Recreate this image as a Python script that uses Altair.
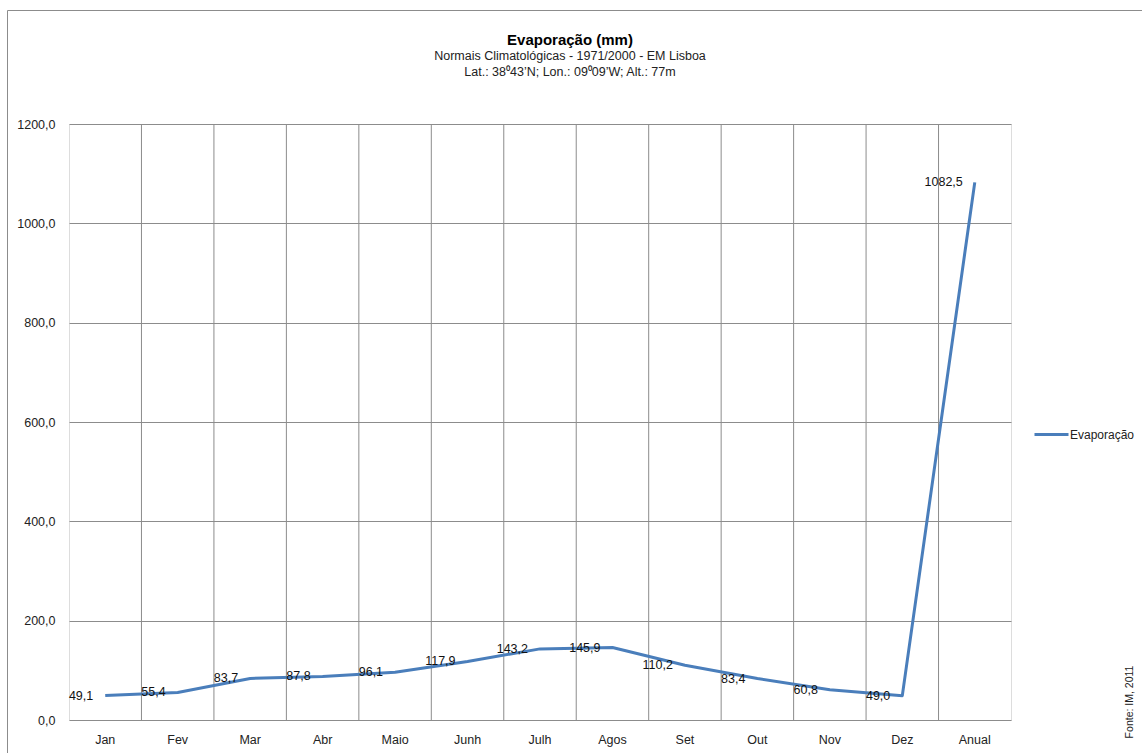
import altair as alt
import pandas as pd

# Monthly and annual mean evaporation, Lisbon, 1971-2000 normals
meses = ["Jan", "Fev", "Mar", "Abr", "Maio", "Junh", "Julh", "Agos",
         "Set", "Out", "Nov", "Dez", "Anual"]
evaporacao = [49.1, 55.4, 83.7, 87.8, 96.1, 117.9, 143.2, 145.9,
              110.2, 83.4, 60.8, 49.0, 1082.5]
serie = "Evaporação"
y_ticks = [0, 200, 400, 600, 800, 1000, 1200]

df = pd.DataFrame({
    "mes": meses,
    "valor": evaporacao,
    "rotulo": [f"{v:.1f}".replace(".", ",") for v in evaporacao],
    "serie": serie,
})

FONT = "Liberation Sans"
GRID = "#8c8c8c"
W, H = 942, 596
PAD_L, PAD_T = 69, 124

x_scale = alt.Scale(type="band", domain=meses, paddingInner=0, paddingOuter=0)
y_scale = alt.Scale(domain=[0, 1200], nice=False)

x_axis = alt.Axis(title=None, labelAngle=0, ticks=False, domain=False,
                  grid=False, labelFont=FONT, labelFontSize=12.5,
                  labelColor="#222", labelPadding=13)
y_axis = alt.Axis(title=None, values=y_ticks, ticks=False, domain=False,
                  grid=True, gridColor=GRID, gridWidth=1,
                  labelFont=FONT, labelFontSize=12.5, labelColor="#222",
                  labelPadding=14,
                  labelExpr="replace(format(datum.value, '.1f'), '.', ',')")

base = alt.Chart(df)

# vertical grid lines at the category boundaries
grid_x = base.transform_filter(alt.datum.mes != meses[0]).mark_rule(
    color=GRID, strokeWidth=1
).encode(
    x=alt.X("mes:N", scale=x_scale, bandPosition=0, axis=x_axis),
)

line = base.mark_line(
    interpolate="linear", strokeWidth=3, strokeJoin="round"
).encode(
    x=alt.X("mes:N", scale=x_scale, axis=x_axis),
    y=alt.Y("valor:Q", scale=y_scale, axis=y_axis),
    color=alt.Color("serie:N", scale=alt.Scale(domain=[serie], range=["#4A7EBB"]),
                    legend=alt.Legend(title=None, orient="none",
                                      legendX=964, legendY=292,
                                      symbolType="stroke", symbolSize=1156,
                                      symbolStrokeWidth=3, labelOffset=0,
                                      labelFont=FONT, labelFontSize=12,
                                      labelColor="#222")),
)

labels = base.mark_text(
    align="right", baseline="middle", dx=-12, font=FONT, fontSize=12.5,
    color="#111"
).encode(
    x=alt.X("mes:N", scale=x_scale),
    y=alt.Y("valor:Q", scale=y_scale),
    text="rotulo:N",
)

one = alt.Data(values=[{}])

fonte = alt.Chart(one).mark_text(
    angle=270, align="center", baseline="middle", font=FONT, fontSize=10.5,
    color="#222"
).encode(x=alt.value(1130 - PAD_L), y=alt.value(702 - PAD_T),
         text=alt.value("Fonte: IM, 2011"))

# outer frame of the chart area
frame_left = alt.Chart(one).mark_rule(color="#8c8c8c", strokeWidth=1).encode(
    x=alt.value(7.5 - PAD_L), y=alt.value(10.5 - PAD_T), y2=alt.value(800 - PAD_T))
frame_top = alt.Chart(one).mark_rule(color="#8c8c8c", strokeWidth=1).encode(
    x=alt.value(7.5 - PAD_L), x2=alt.value(1200 - PAD_L), y=alt.value(10.5 - PAD_T))

chart = alt.layer(grid_x, line, labels, fonte, frame_left, frame_top).properties(
    width=W, height=H,
    title=alt.TitleParams(
        text="Evaporação (mm)",
        subtitle=["Normais Climatológicas  - 1971/2000  - EM Lisboa",
                  "Lat.: 38⁰43’N; Lon.: 09⁰09’W; Alt.: 77m"],
        anchor="middle", dx=30, offset=-68,
        font=FONT, fontSize=15, fontWeight="bold", color="#000",
        subtitleFont=FONT, subtitleFontSize=12.5, subtitleColor="#222",
        subtitlePadding=2, subtitleLineHeight=16,
    ),
    autosize=alt.AutoSizeParams(type="none"),
    padding={"left": PAD_L, "top": PAD_T, "right": 1142 - PAD_L - W,
             "bottom": 753 - PAD_T - H},
).configure_view(
    stroke=GRID, strokeWidth=1
).configure(background="white")

chart.save("out.html", embed_options={"renderer": "svg", "actions": False})
